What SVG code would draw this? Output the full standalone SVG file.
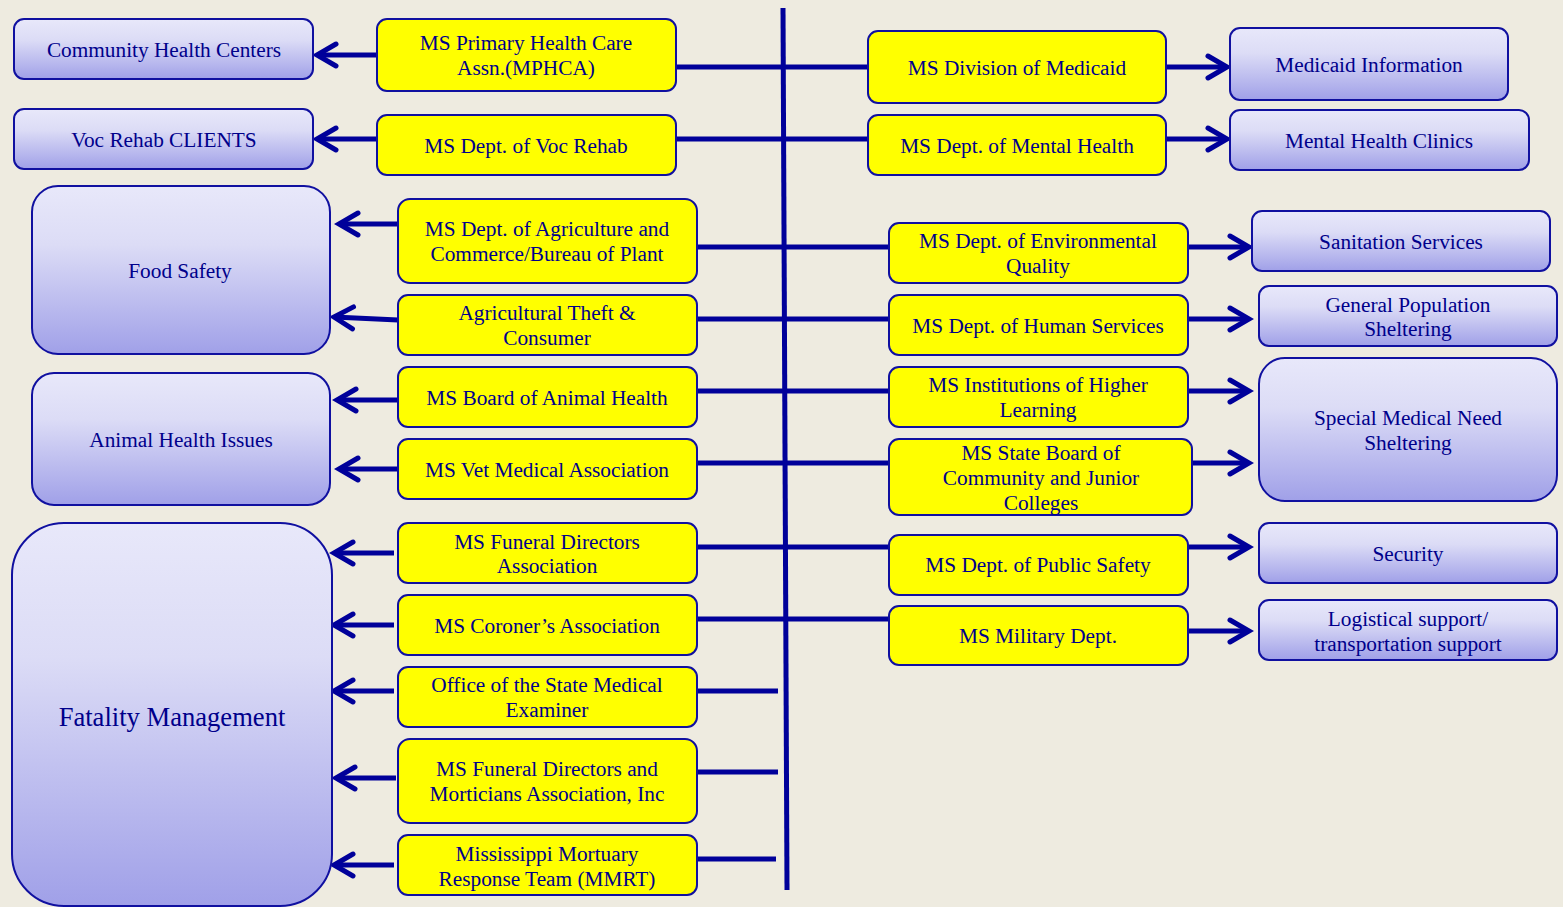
<svg xmlns="http://www.w3.org/2000/svg" width="1563" height="907" viewBox="0 0 1563 907">
<defs>
<linearGradient id="bg" x1="0" y1="0" x2="0" y2="1">
<stop offset="0" stop-color="#E8E8FA"/>
<stop offset="0.35" stop-color="#DCDCF6"/>
<stop offset="1" stop-color="#A0A0E8"/>
</linearGradient>
<marker id="arr" markerUnits="userSpaceOnUse" markerWidth="40" markerHeight="40" viewBox="-30 -20 40 40" refX="0" refY="0" orient="auto" overflow="visible">
<path d="M -19 -11 L 0 0 L -19 11" fill="none" stroke="#00009A" stroke-width="5" stroke-linecap="round" stroke-linejoin="miter"/>
</marker>
</defs>
<style>
.y{fill:#FFFF00;stroke:#1010A0;stroke-width:2}
.b{fill:url(#bg);stroke:#1010A0;stroke-width:2}
text{font-family:"Liberation Serif","Times New Roman",serif;font-size:21.3px;fill:#00008B;text-anchor:middle}
.c line{stroke:#00009A;stroke-width:5}
.c .a{marker-end:url(#arr)}
</style>
<rect width="1563" height="907" fill="#EEEBE0"/>

<g class="c" id="connectors">
<line x1="783" y1="8" x2="787" y2="890"/>
<line x1="676" y1="67" x2="868" y2="67"/>
<line x1="676" y1="139" x2="868" y2="139"/>
<line x1="697" y1="247" x2="889" y2="247"/>
<line x1="697" y1="319" x2="889" y2="319"/>
<line x1="697" y1="391" x2="889" y2="391"/>
<line x1="697" y1="463" x2="889" y2="463"/>
<line x1="697" y1="547" x2="889" y2="547"/>
<line x1="697" y1="619" x2="889" y2="619"/>
<line x1="693" y1="691" x2="778" y2="691"/>
<line x1="693" y1="772" x2="778" y2="772"/>
<line x1="691" y1="859" x2="776" y2="859"/>
<line class="a" x1="377" y1="55" x2="317" y2="55"/>
<line class="a" x1="377" y1="139" x2="317" y2="139"/>
<line class="a" x1="398" y1="224" x2="339" y2="224"/>
<line class="a" x1="398" y1="320" x2="334" y2="317"/>
<line class="a" x1="398" y1="400" x2="337" y2="400"/>
<line class="a" x1="398" y1="469" x2="339" y2="469"/>
<line class="a" x1="394" y1="553" x2="334" y2="553"/>
<line class="a" x1="394" y1="625" x2="334" y2="625"/>
<line class="a" x1="394" y1="691" x2="334" y2="691"/>
<line class="a" x1="396" y1="778" x2="336" y2="778"/>
<line class="a" x1="394" y1="865" x2="334" y2="865"/>
<line class="a" x1="1166" y1="67" x2="1227" y2="67"/>
<line class="a" x1="1166" y1="139" x2="1227" y2="139"/>
<line class="a" x1="1188" y1="247" x2="1249" y2="247"/>
<line class="a" x1="1188" y1="319" x2="1249" y2="319"/>
<line class="a" x1="1188" y1="391" x2="1249" y2="391"/>
<line class="a" x1="1188" y1="463" x2="1249" y2="463"/>
<line class="a" x1="1188" y1="547" x2="1249" y2="547"/>
<line class="a" x1="1188" y1="631" x2="1249" y2="631"/>
</g>

<g id="community-health"><rect class="b" x="14" y="19" width="299" height="60" rx="10"/><text x="164" y="57">Community Health Centers</text></g>
<g id="voc-clients"><rect class="b" x="14" y="109" width="299" height="60" rx="10"/><text x="164" y="147">Voc Rehab CLIENTS</text></g>
<g id="food-safety"><rect class="b" x="32" y="186" width="298" height="168" rx="26"/><text x="180" y="278">Food Safety</text></g>
<g id="animal-health"><rect class="b" x="32" y="373" width="298" height="132" rx="22"/><text x="181" y="447">Animal Health Issues</text></g>
<g id="fatality"><rect class="b" x="12" y="523" width="320" height="383" rx="52"/><text x="172" y="726" style="font-size:26.6px">Fatality Management</text></g>

<g id="mphca"><rect class="y" x="377" y="19" width="299" height="72" rx="10"/><text x="526" y="50">MS Primary Health Care</text><text x="526" y="75">Assn.(MPHCA)</text></g>
<g id="voc-rehab"><rect class="y" x="377" y="115" width="299" height="60" rx="10"/><text x="526" y="153">MS Dept. of Voc Rehab</text></g>
<g id="agriculture"><rect class="y" x="398" y="199" width="299" height="84" rx="12"/><text x="547" y="236">MS Dept. of Agriculture and</text><text x="547" y="261">Commerce/Bureau of Plant</text></g>
<g id="ag-theft"><rect class="y" x="398" y="295" width="299" height="60" rx="10"/><text x="547" y="320">Agricultural Theft &amp;</text><text x="547" y="345">Consumer</text></g>
<g id="animal-board"><rect class="y" x="398" y="367" width="299" height="60" rx="10"/><text x="547" y="405">MS Board of Animal Health</text></g>
<g id="vet"><rect class="y" x="398" y="439" width="299" height="60" rx="10"/><text x="547" y="477">MS Vet Medical Association</text></g>
<g id="funeral"><rect class="y" x="398" y="523" width="299" height="60" rx="10"/><text x="547" y="549">MS Funeral Directors</text><text x="547" y="573">Association</text></g>
<g id="coroner"><rect class="y" x="398" y="595" width="299" height="60" rx="10"/><text x="547" y="633">MS Coroner’s Association</text></g>
<g id="osme"><rect class="y" x="398" y="667" width="299" height="60" rx="10"/><text x="547" y="692">Office of the State Medical</text><text x="547" y="717">Examiner</text></g>
<g id="morticians"><rect class="y" x="398" y="739" width="299" height="84" rx="12"/><text x="547" y="776">MS Funeral Directors and</text><text x="547" y="801">Morticians Association, Inc</text></g>
<g id="mmrt"><rect class="y" x="398" y="835" width="299" height="60" rx="10"/><text x="547" y="861">Mississippi Mortuary</text><text x="547" y="886">Response Team (MMRT)</text></g>

<g id="medicaid"><rect class="y" x="868" y="31" width="298" height="72" rx="10"/><text x="1017" y="75">MS Division of Medicaid</text></g>
<g id="mental"><rect class="y" x="868" y="115" width="298" height="60" rx="10"/><text x="1017" y="153">MS Dept. of Mental Health</text></g>
<g id="environmental"><rect class="y" x="889" y="223" width="299" height="60" rx="10"/><text x="1038" y="248">MS Dept. of Environmental</text><text x="1038" y="273">Quality</text></g>
<g id="human"><rect class="y" x="889" y="295" width="299" height="60" rx="10"/><text x="1038" y="333">MS Dept. of Human Services</text></g>
<g id="higher"><rect class="y" x="889" y="367" width="299" height="60" rx="10"/><text x="1038" y="392">MS Institutions of Higher</text><text x="1038" y="417">Learning</text></g>
<g id="colleges"><rect class="y" x="889" y="439" width="303" height="76" rx="10"/><text x="1041" y="460">MS State Board of</text><text x="1041" y="485">Community and Junior</text><text x="1041" y="510">Colleges</text></g>
<g id="public-safety"><rect class="y" x="889" y="535" width="299" height="60" rx="10"/><text x="1038" y="572">MS Dept. of Public Safety</text></g>
<g id="military"><rect class="y" x="889" y="606" width="299" height="59" rx="10"/><text x="1038" y="643">MS Military Dept.</text></g>

<g id="medicaid-info"><rect class="b" x="1230" y="28" width="278" height="72" rx="10"/><text x="1369" y="72">Medicaid Information</text></g>
<g id="mh-clinics"><rect class="b" x="1230" y="110" width="299" height="60" rx="10"/><text x="1379" y="148">Mental Health Clinics</text></g>
<g id="sanitation"><rect class="b" x="1252" y="211" width="298" height="60" rx="10"/><text x="1401" y="249">Sanitation Services</text></g>
<g id="gen-shelter"><rect class="b" x="1259" y="286" width="298" height="60" rx="10"/><text x="1408" y="312">General Population</text><text x="1408" y="336">Sheltering</text></g>
<g id="special-shelter"><rect class="b" x="1259" y="358" width="298" height="143" rx="26"/><text x="1408" y="425">Special Medical Need</text><text x="1408" y="450">Sheltering</text></g>
<g id="security"><rect class="b" x="1259" y="523" width="298" height="60" rx="10"/><text x="1408" y="561">Security</text></g>
<g id="logistics"><rect class="b" x="1259" y="600" width="298" height="60" rx="10"/><text x="1408" y="626">Logistical support/</text><text x="1408" y="651">transportation support</text></g>
</svg>
